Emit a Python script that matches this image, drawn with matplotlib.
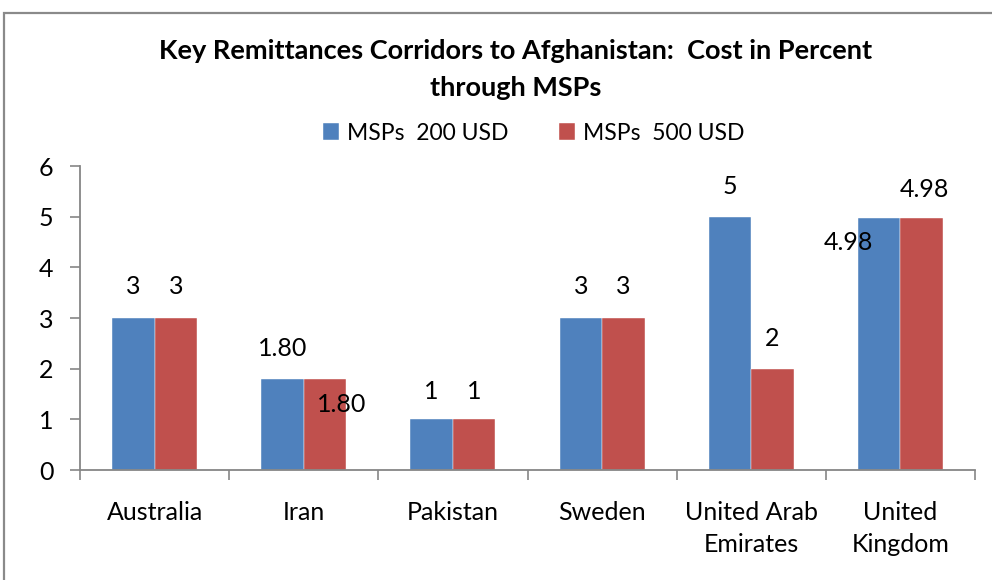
import matplotlib
matplotlib.use("Agg")
import matplotlib.pyplot as plt
import numpy as np
from matplotlib.patches import Rectangle

categories = ["Australia", "Iran", "Pakistan", "Sweden", "United Arab\nEmirates", "United\nKingdom"]
msp200 = [3, 1.80, 1, 3, 5, 4.98]
msp500 = [3, 1.80, 1, 3, 2, 4.98]
labels200 = ["3", "1.80", "1", "3", "5", "4.98"]
labels500 = ["3", "1.80", "1", "3", "2", "4.98"]
series_names = ["MSPs  200 USD", "MSPs  500 USD"]
yticks = [0, 1, 2, 3, 4, 5, 6]

plt.rcParams['font.family'] = ['Lato', 'DejaVu Sans']
BLUE = "#4F81BD"
RED = "#C0504D"
GRAY = "#868686"

W, H = 992, 580
fig = plt.figure(figsize=(W/100, H/100), dpi=100)
ax = fig.add_axes([80/W, 1-470/H, (975-80)/W, (470-166)/H])

x = np.arange(len(categories))
bw = 0.285
b1 = ax.bar(x - bw/2, msp200, bw, color=BLUE, label=series_names[0], edgecolor="white", linewidth=0.3)
b2 = ax.bar(x + bw/2, msp500, bw, color=RED, label=series_names[1], edgecolor="white", linewidth=0.3)

FS = 18
ax.set_xlim(-0.5, len(categories)-0.5)
ax.set_ylim(0, 6)
ax.set_yticks(yticks)
ax.set_yticklabels([str(t) for t in yticks])
ax.set_xticks(np.arange(len(categories)+1) - 0.5)
ax.set_xticklabels([])
ax.set_xticks(x, minor=True)
ax.set_xticklabels(categories, minor=True, fontsize=FS, linespacing=1.5, va='top')
ax.tick_params(axis='x', which='major', length=7, direction='out', color=GRAY, width=1.2)
ax.tick_params(axis='x', which='minor', length=0, pad=22)
ax.tick_params(axis='y', length=7, direction='out', color=GRAY, width=1.2, labelsize=FS, pad=12)

for s in ["top", "right"]:
    ax.spines[s].set_visible(False)
for s in ["left", "bottom"]:
    ax.spines[s].set_color(GRAY)
    ax.spines[s].set_linewidth(1.3)

px = 72/100  # pixels -> points
offsets200 = [(0, 31), (0, 30), (0, 28), (0, 31), (0, 30), (-31, -25)]
offsets500 = [(0, 31), (17, -26), (0, 28), (0, 31), (0, 30), (3, 28)]
for i in range(len(categories)):
    ax.annotate(labels200[i], (x[i]-bw/2, msp200[i]), xytext=(offsets200[i][0]*px, offsets200[i][1]*px),
                textcoords='offset points', ha='center', va='center', fontsize=FS)
    ax.annotate(labels500[i], (x[i]+bw/2, msp500[i]), xytext=(offsets500[i][0]*px, offsets500[i][1]*px),
                textcoords='offset points', ha='center', va='center', fontsize=FS)

fig.text(516/W, 1-51/H, "Key Remittances Corridors to Afghanistan:  Cost in Percent", ha='center', va='center',
         fontsize=19.5, fontweight='bold')
fig.text(516/W, 1-88/H, "through MSPs", ha='center', va='center', fontsize=19.5, fontweight='bold')

leg = fig.legend(handles=[b1, b2], loc='center', bbox_to_anchor=(534/W, 1-133/H), ncol=2, frameon=False,
                 fontsize=16.5, handlelength=0.7, handleheight=0.7, handletextpad=0.35, columnspacing=2.2)

fig.add_artist(Rectangle((4/W, -0.05), 1.1, (1-13/H)+0.05, transform=fig.transFigure, fill=False,
                         edgecolor="#8a8a8a", linewidth=1.6))

fig.savefig("out.png", dpi=100)
